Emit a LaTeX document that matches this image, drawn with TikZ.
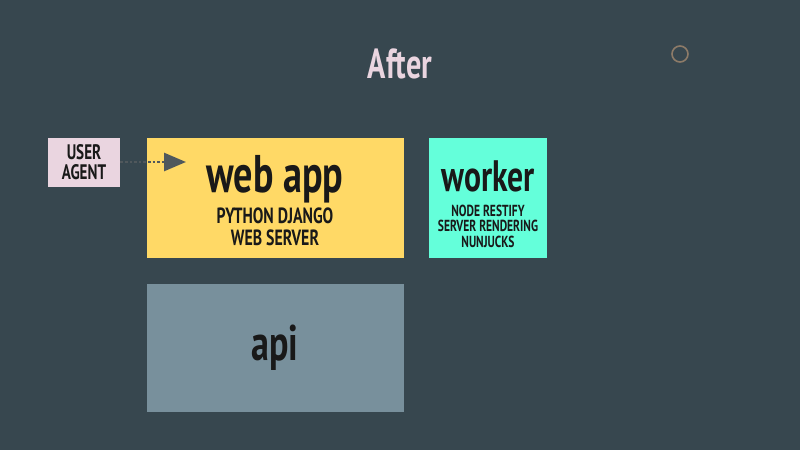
\documentclass[tikz,border=0pt]{standalone}
\usepackage{fontspec}
\setmainfont{PT Sans}[FakeStretch=0.72]
\usetikzlibrary{arrows.meta}
\definecolor{bg}{HTML}{37474F}
\definecolor{ua}{HTML}{EAD5E0}
\definecolor{web}{HTML}{FFD966}
\definecolor{wk}{HTML}{64FFDA}
\definecolor{apic}{HTML}{78909C}
\definecolor{ttl}{HTML}{EAD5E0}
\definecolor{circ}{HTML}{8D7B68}
\definecolor{arr}{HTML}{50585C}
\begin{document}
\begin{tikzpicture}[x=1pt,y=-1pt,
  box/.style={draw=none,inner sep=0pt},
  lab/.style={text=black!90,align=center,inner sep=0pt}]
\fill[bg] (0,0) rectangle (800,450);
\useasboundingbox (0,0) rectangle (800,450);
\node[text=ttl,font=\fontsize{42}{44}\selectfont\bfseries] (title) at (400,64) {After};
\node[draw=circ,line width=1.6pt,circle,minimum size=16pt,inner sep=0pt] (dot) at (680,54) {};
\node[box,fill=ua,minimum width=72pt,minimum height=49pt,anchor=north west] (ua) at (48,138) {};
\node[lab,font=\fontsize{21}{20}\selectfont\bfseries] (uat) at (84,162) {USER\\AGENT};
\node[box,fill=web,minimum width=257pt,minimum height=120pt,anchor=north west] (web) at (147,138) {};
\node[lab,font=\fontsize{53}{53}\selectfont\bfseries] (webt) at (275,179) {web app};
\node[lab,font=\fontsize{22}{22}\selectfont\bfseries] (webs) at (275,227) {PYTHON DJANGO\\WEB SERVER};
\node[box,fill=wk,minimum width=118pt,minimum height=120pt,anchor=north west] (wk) at (429,138) {};
\node[lab,font=\fontsize{44}{44}\selectfont\bfseries] (wkt) at (488,176) {worker};
\node[lab,font=\fontsize{16}{15.5}\selectfont\bfseries] (wks) at (488,226) {NODE RESTIFY\\SERVER RENDERING\\NUNJUCKS};
\node[box,fill=apic,minimum width=257pt,minimum height=128pt,anchor=north west] (api) at (147,284) {};
\node[lab,font=\fontsize{50}{50}\selectfont\bfseries] (apit) at (275,348) {api};
\coordinate (tip) at (186,162);
\draw[arr,line width=2.6pt,dotted,-{Triangle[width=18pt,length=22pt,fill=arr]}] (ua.east |- tip) -- (tip);
\end{tikzpicture}
\end{document}
